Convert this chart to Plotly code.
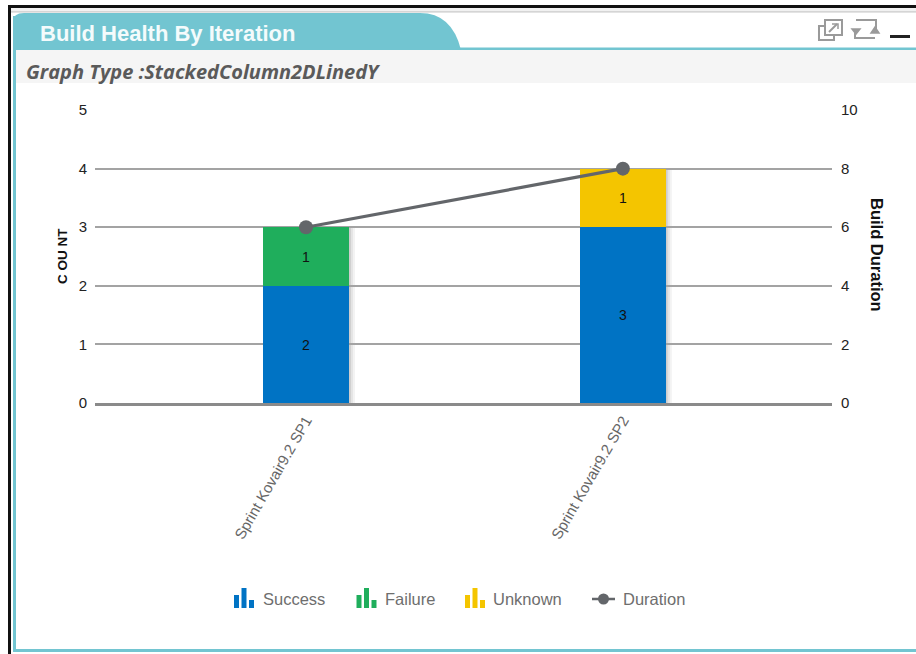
import plotly.graph_objects as go

W, H = 916, 654
TOP, BOT = 8, 8
categories = ["Sprint Kovair9.2 SP1", "Sprint Kovair9.2 SP2"]
success = [2, 3]
failure = [1, 0]
unknown = [0, 1]
duration = [6, 8]
count_ticks = [0, 1, 2, 3, 4, 5]
duration_ticks = [0, 2, 4, 6, 8, 10]
BLUE, GREEN, YELLOW, GREY = "#0073c4", "#1fae5c", "#f4c500", "#63666a"
BAR_W = 0.27


def X(p):
    return p / W


def Y(p):
    return 1 - (p - TOP) / (H - TOP - BOT)


def rect(x0, y0, x1, y1, fill, layer="below"):
    return dict(type="rect", xref="paper", yref="paper", x0=X(x0), x1=X(x1), y0=Y(y0), y1=Y(y1),
                fillcolor=fill, line_width=0, layer=layer)


def poly(points, color, width=2, fill=None, close=False):
    d = "M " + " L ".join(f"{X(a):.5f},{Y(b):.5f}" for a, b in points) + (" Z" if close else "")
    return dict(type="path", xref="paper", yref="paper", path=d, fillcolor=fill,
                line=dict(color=color, width=width), layer="above")


fig = go.Figure()


def label(vals):
    return [str(v) if v else "" for v in vals]


for name, vals, col in [("Success", success, BLUE), ("Failure", failure, GREEN), ("Unknown", unknown, YELLOW)]:
    fig.add_trace(go.Bar(x=categories, y=vals, name=name, width=BAR_W, marker=dict(color=col, line_width=0),
                         text=label(vals), textposition="inside", insidetextanchor="middle", textangle=0,
                         textfont=dict(color="#111", size=14, family="Liberation Sans"),
                         cliponaxis=False, showlegend=False))
fig.add_trace(go.Scatter(x=categories, y=duration, name="Duration", yaxis="y2", mode="lines+markers",
                         line=dict(color=GREY, width=3.2), marker=dict(color=GREY, size=14), showlegend=False))

shapes = [
    rect(8, 5, W, 8, "#111111"),
    rect(8, 5, 11, H, "#111111"),
    rect(11, 8, W, 13, "#f1f1f1"),
    rect(11, 11, W, 12.5, "#d5d5d5"),
    rect(16, 50, W, 83, "#f5f5f5"),
    rect(13, 47.5, W, 50, "#72c5d1"),
    rect(13, 16, 16, 652, "#72c5d1"),
    rect(13, 649, W, 652, "#72c5d1"),
    dict(type="path", xref="paper", yref="paper", layer="below", fillcolor="#72c5d1", line_width=0,
         path=f"M {X(13)},{Y(50)} L {X(13)},{Y(22)} Q {X(13)},{Y(13)} {X(24)},{Y(13)} L {X(420)},{Y(13)} "
              f"Q {X(452)},{Y(13)} {X(461)},{Y(50)} Z"),
]
for i, c in enumerate(categories):
    total = success[i] + failure[i] + unknown[i]
    for k, alpha in enumerate([0.30, 0.16, 0.07]):
        shapes.append(dict(type="rect", xref="x", yref="y", layer="below", line_width=0,
                           x0=i + BAR_W / 2 + k * 0.0065, x1=i + BAR_W / 2 + (k + 1) * 0.0065, y0=0, y1=total,
                           fillcolor=f"rgba(90,90,90,{alpha})"))

ICON = "#9a9a9a"
shapes += [
    poly([(825, 20), (842, 20), (842, 35), (825, 35)], ICON, 2, close=True),
    poly([(825, 26), (819, 26), (819, 40), (834, 40), (834, 35)], ICON, 2),
    poly([(829, 32), (837, 24)], ICON, 2),
    poly([(832, 24), (838, 24), (838, 29)], ICON, 1.5),
    poly([(875, 38), (855, 38), (855, 31)], ICON, 2),
    poly([(856, 20), (876, 20), (876, 29)], ICON, 2),
    poly([(852, 29), (860, 29), (856, 34)], ICON, 1.5, ICON, True),
    poly([(871, 33), (879, 33), (875, 27)], ICON, 1.5, ICON, True),
    rect(890, 35, 910, 38, "#222222", "above"),
]

legend_items = [("Success", BLUE, 234, 263), ("Failure", GREEN, 356.5, 385), ("Unknown", YELLOW, 465, 493)]
annotations = []
for name, col, ix, tx in legend_items:
    shapes += [rect(ix, 595, ix + 5, 608, col, "above"), rect(ix + 7.5, 588, ix + 12.5, 608, col, "above"),
               rect(ix + 15, 600, ix + 20, 608, col, "above")]
    annotations.append((name, tx))
annotations.append(("Duration", 623))
shapes.append(poly([(592, 599), (615, 599)], GREY, 2.5))
shapes.append(dict(type="circle", xref="paper", yref="paper", x0=X(598), x1=X(609), y0=Y(604.5), y1=Y(593.5),
                   fillcolor=GREY, line_width=0, layer="above"))


def text(s, x, y, size, color, family="Liberation Sans", anchor="left", angle=0, yanchor="middle"):
    return dict(text=s, xref="paper", yref="paper", x=X(x - 2 if anchor == "left" else x), y=Y(y), showarrow=False,
                xanchor=anchor, yanchor=yanchor, textangle=angle, font=dict(size=size, color=color, family=family))


ann = [
    text("<b>Build Health By Iteration</b>", 40, 34, 22, "#f4fbfc"),
    text("<b><i>Graph Type :StackedColumn2DLinedY</i></b>", 26, 71, 20, "#5a5a5a", "Open Sans"),
    text("<b>C OU NT</b>", 62, 256, 13.5, "#111", anchor="center", angle=-90),
    text("<b>Build Duration</b>", 877, 255, 16.5, "#111", anchor="center", angle=90),
]
ann += [text(n, tx, 599, 16.5, "#6e6e6e") for n, tx in annotations]

fig.update_layout(
    width=W, height=H, margin=dict(l=0, r=0, t=TOP, b=BOT), autosize=False,
    paper_bgcolor="white", plot_bgcolor="rgba(0,0,0,0)",
    barmode="stack", bargap=0, shapes=shapes, annotations=ann, showlegend=False,
    xaxis=dict(domain=[X(95), X(832)], type="category", range=[-0.666, 1.66], categoryorder="array",
               categoryarray=categories, tickangle=-60, ticks="", showgrid=False, zeroline=False,
               showline=True, linecolor="#8a8a8a", linewidth=2.5,
               tickfont=dict(size=15, color="#666", family="Liberation Sans"), anchor="y"),
    yaxis=dict(domain=[Y(403), Y(110)], range=[0, 5.001], tickvals=count_ticks, ticks="", ticklabelstandoff=7,
               gridcolor="#a3a3a3", gridwidth=1.5, zeroline=False,
               tickfont=dict(size=15, color="#222", family="Liberation Sans"), anchor="x"),
    yaxis2=dict(domain=[Y(403), Y(110)], range=[0, 10.002], tickvals=duration_ticks, overlaying="y", side="right",
                ticks="", ticklabelstandoff=8, showgrid=False, zeroline=False,
                tickfont=dict(size=15, color="#222", family="Liberation Sans"), anchor="x"),
)
fig.write_html("out.html", config={"displayModeBar": False}, post_script="document.body.style.margin='0';")
